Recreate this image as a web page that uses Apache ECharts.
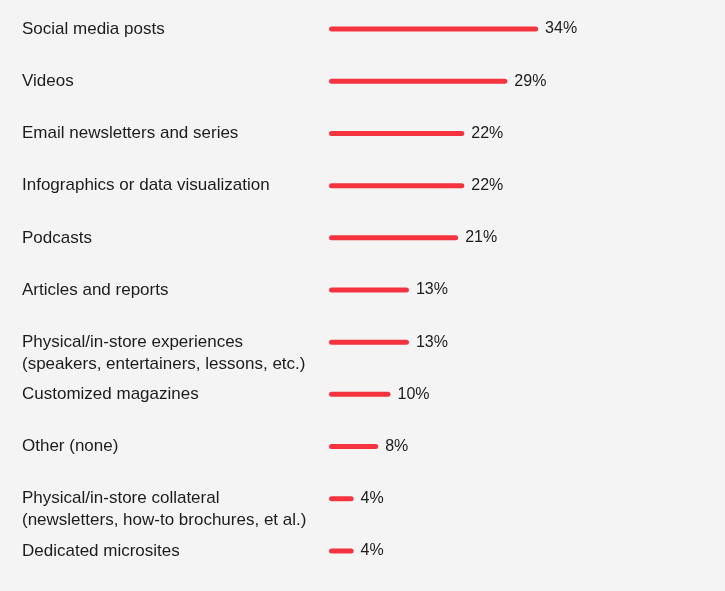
<!DOCTYPE html>
<html>
<head>
<meta charset="utf-8">
<script src="https://cdn.jsdelivr.net/npm/echarts@6/dist/echarts.min.js"></script>
<style>
  html, body { margin: 0; padding: 0; background: #f4f4f4; }
  #chart { width: 725px; height: 591px; }
</style>
</head>
<body>
<div id="chart"></div>
<script>
// categories, top to bottom
var categories = [
  'Social media posts',
  'Videos',
  'Email newsletters and series',
  'Infographics or data visualization',
  'Podcasts',
  'Articles and reports',
  'Physical/in-store experiences\n(speakers, entertainers, lessons, etc.)',
  'Customized magazines',
  'Other (none)',
  'Physical/in-store collateral\n(newsletters, how-to brochures, et al.)',
  'Dedicated microsites'
];
// share of respondents, %
var values = [34, 29, 22, 22, 21, 13, 13, 10, 8, 4, 4];

var chart = echarts.init(document.getElementById('chart'));

var option = {
  backgroundColor: '#f4f4f4',
  textStyle: { fontFamily: 'Liberation Sans, Arial, sans-serif' },
  grid: {
    left: 329,
    top: 3,
    width: 369,
    height: 574
  },
  xAxis: {
    type: 'value',
    min: 0,
    max: 60,
    show: false
  },
  yAxis: {
    type: 'category',
    data: categories,
    inverse: true,
    axisLine: { show: false },
    axisTick: { show: false },
    splitLine: { show: false },
    axisLabel: {
      align: 'left',
      margin: 307,
      color: '#1c1c1c',
      fontSize: 17,
      lineHeight: 22,
      // two-line names: keep the first line level with the bar
      formatter: function (v) {
        return v.indexOf('\n') >= 0 ? '\n' + v : v;
      }
    }
  },
  series: [{
    type: 'bar',
    data: values,
    barWidth: 5,
    itemStyle: {
      color: '#f4333f',
      borderRadius: 3
    },
    label: {
      show: true,
      position: 'right',
      distance: 7,
      color: '#1c1c1c',
      fontSize: 16,
      formatter: '{c}%'
    },
    animation: false
  }]
};

chart.setOption(option);
</script>
</body>
</html>
